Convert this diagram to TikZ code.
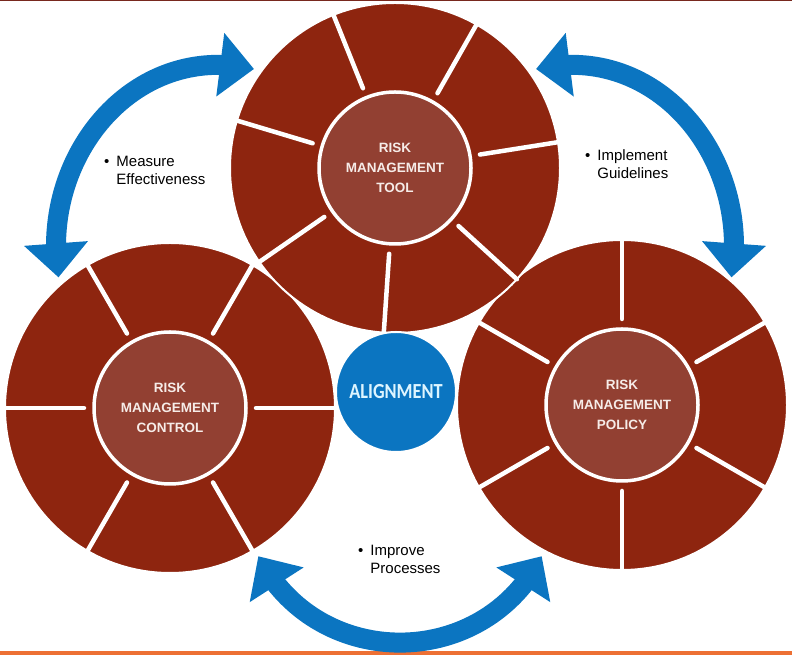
\documentclass[tikz,border=0pt]{standalone}
\usepackage{fontspec}
\setmainfont{Liberation Sans}
\newfontfamily\alignfont{Carlito}
\usepackage{graphicx}
\usepackage{xcolor}
\usepackage{tikz}
\usetikzlibrary{arrows.meta,bending,positioning}
\definecolor{ringred}{RGB}{142,37,15}
\definecolor{hubred}{RGB}{146,64,50}
\definecolor{arrowblue}{RGB}{11,117,193}
\definecolor{hubtext}{RGB}{246,236,232}
\definecolor{aligntext}{RGB}{222,245,255}
\definecolor{barorange}{RGB}{237,112,52}
\definecolor{bartop}{RGB}{120,40,30}
\tikzstyle{ring} = [circle, draw=white, line width=2pt, fill=ringred, minimum size=330pt, inner sep=0pt, outer sep=0pt]
\tikzstyle{hub} = [circle, draw=white, line width=3.5pt, fill=hubred, text=hubtext, align=center, font=\fontsize{13.5}{20}\selectfont\bfseries, minimum size=152pt, inner sep=0pt]
\tikzstyle{spoke} = [draw=white, line width=4.5pt, line cap=round]
\tikzstyle{core} = [circle, draw=white, line width=2pt, fill=arrowblue, text=aligntext, minimum size=120pt, inner sep=0pt, font=\alignfont\bfseries\fontsize{21.5}{22}\selectfont]
\tikzstyle{note} = [anchor=west, inner sep=0pt, font=\fontsize{15}{18}\selectfont]
\tikzstyle{barrow} = [draw=arrowblue, line width=20pt, >={Triangle[width=62pt,length=34pt]}, <->]

\begin{document}
\begin{tikzpicture}[x=1pt, y=1pt]
\useasboundingbox (0,0) rectangle (792,655);

% frame bars =============================
\fill[bartop] (0,653.5) rectangle (792,655);
\fill[barorange] (0,0) rectangle (792,4);

% rings =============================
\node[ring] (control) at (170,247) {};
\node[ring] (policy) at (622,250) {};
\node[ring] (tool) at (395,487) {};

% spokes
\path[spoke] ([shift={(9:86)}]tool.center) -- ([shift={(9:165)}]tool.center);
\path[spoke] ([shift={(60.4:86)}]tool.center) -- ([shift={(60.4:165)}]tool.center);
\path[spoke] ([shift={(111.9:86)}]tool.center) -- ([shift={(111.9:165)}]tool.center);
\path[spoke] ([shift={(163.3:86)}]tool.center) -- ([shift={(163.3:165)}]tool.center);
\path[spoke] ([shift={(214.7:86)}]tool.center) -- ([shift={(214.7:165)}]tool.center);
\path[spoke] ([shift={(266.1:86)}]tool.center) -- ([shift={(266.1:165)}]tool.center);
\path[spoke] ([shift={(317.6:86)}]tool.center) -- ([shift={(317.6:165)}]tool.center);

\path[spoke] ([shift={(0:86)}]control.center) -- ([shift={(0:165)}]control.center);
\path[spoke] ([shift={(60:86)}]control.center) -- ([shift={(60:165)}]control.center);
\path[spoke] ([shift={(120:86)}]control.center) -- ([shift={(120:165)}]control.center);
\path[spoke] ([shift={(180:86)}]control.center) -- ([shift={(180:165)}]control.center);
\path[spoke] ([shift={(240:86)}]control.center) -- ([shift={(240:165)}]control.center);
\path[spoke] ([shift={(300:86)}]control.center) -- ([shift={(300:165)}]control.center);

\path[spoke] ([shift={(30:86)}]policy.center) -- ([shift={(30:165)}]policy.center);
\path[spoke] ([shift={(90:86)}]policy.center) -- ([shift={(90:165)}]policy.center);
\path[spoke] ([shift={(150:86)}]policy.center) -- ([shift={(150:165)}]policy.center);
\path[spoke] ([shift={(210:86)}]policy.center) -- ([shift={(210:165)}]policy.center);
\path[spoke] ([shift={(270:86)}]policy.center) -- ([shift={(270:165)}]policy.center);
\path[spoke] ([shift={(330:86)}]policy.center) -- ([shift={(330:165)}]policy.center);

% hubs
\node[hub] (toolhub) at (tool) {RISK\\MANAGEMENT\\TOOL};
\node[hub] (controlhub) at (control) {RISK\\MANAGEMENT\\CONTROL};
\node[hub] (policyhub) at (policy) {RISK\\MANAGEMENT\\POLICY};
\node[core] (alignc) at (396,263) {\scalebox{0.85}[1]{ALIGNMENT}};

% arrows =============================
\coordinate (m1) at (254,586);
\coordinate (m2) at (58.5,377.6);
\coordinate (g1) at (536,586);
\coordinate (g2) at (731.5,377.6);
\coordinate (p1) at (258.3,98.8);
\coordinate (p2) at (541.7,98.8);

\path[barrow] (m1) to[out=167, in=99, looseness=1.1] (m2);
\path[barrow] (g1) to[out=13, in=81, looseness=1.1] (g2);
\path[barrow] (p1) to[out=297, in=243, looseness=1.17] (p2);

% notes
\node[note] (lab1) at (104,483) {\begin{tabular}{@{}l@{\hspace{7pt}}l@{}}\textbullet & Measure\\ & Effectiveness\end{tabular}};
\node[note] (lab2) at (585,489) {\begin{tabular}{@{}l@{\hspace{7pt}}l@{}}\textbullet & Implement\\ & Guidelines\end{tabular}};
\node[note] (lab3) at (358,94.5) {\begin{tabular}{@{}l@{\hspace{7pt}}l@{}}\textbullet & Improve\\ & Processes\end{tabular}};

\end{tikzpicture}
\end{document}
